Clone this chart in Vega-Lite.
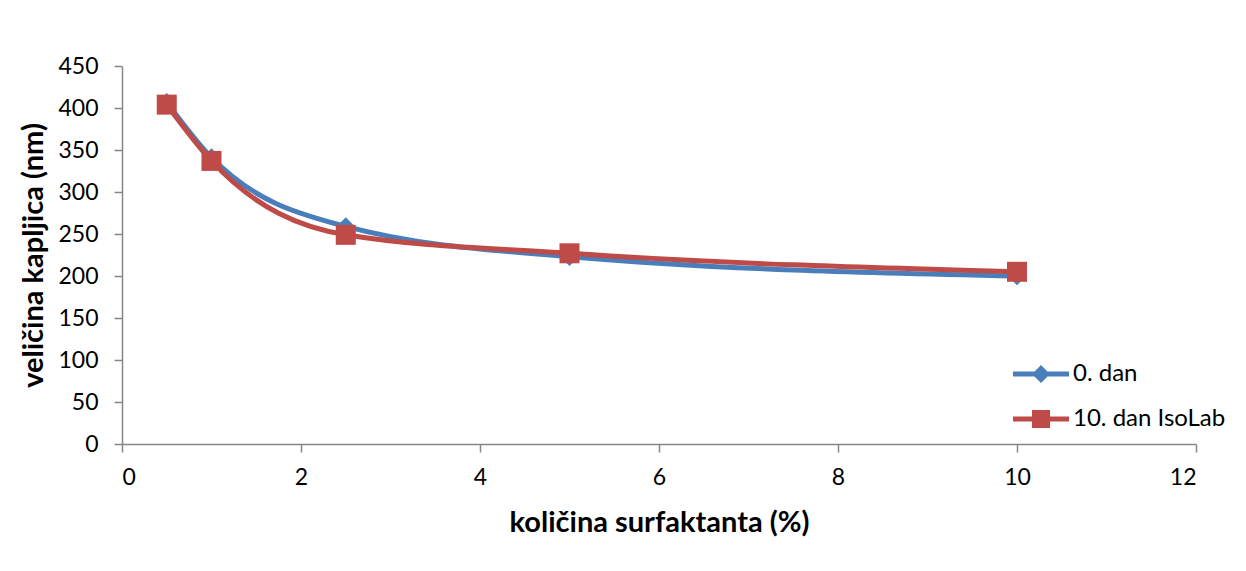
{
  "$schema": "https://vega.github.io/schema/vega-lite/v6.json",
  "autosize": {"type": "none"},
  "padding": {"left": 122, "top": 66, "right": 50, "bottom": 127},
  "width": 1074,
  "height": 378,
  "background": "white",
  "config": {
    "view": {"stroke": null},
    "font": "Lato",
    "axis": {
      "grid": false,
      "domainColor": "#868686",
      "domainWidth": 1.5,
      "tickColor": "#868686",
      "tickWidth": 1.5,
      "tickSize": 8,
      "labelColor": "black",
      "labelFont": "Lato",
      "labelFontSize": 23,
      "titleColor": "black",
      "titleFont": "Lato",
      "titleFontSize": 29,
      "titleFontWeight": "bold"
    }
  },
  "data": {
    "values": [
      {"x": 0.5, "y": 407, "serija": "0. dan"},
      {"x": 1, "y": 341, "serija": "0. dan"},
      {"x": 2.5, "y": 259, "serija": "0. dan"},
      {"x": 5, "y": 223, "serija": "0. dan"},
      {"x": 10, "y": 200, "serija": "0. dan"},
      {"x": 0.5, "y": 404, "serija": "10. dan IsoLab"},
      {"x": 1, "y": 337, "serija": "10. dan IsoLab"},
      {"x": 2.5, "y": 249, "serija": "10. dan IsoLab"},
      {"x": 5, "y": 227, "serija": "10. dan IsoLab"},
      {"x": 10, "y": 205, "serija": "10. dan IsoLab"}
    ]
  },
  "encoding": {
    "x": {
      "field": "x", "type": "quantitative",
      "scale": {"domain": [0, 12], "nice": false},
      "axis": {"values": [0, 2, 4, 6, 8, 10, 12], "title": "količina surfaktanta (%)", "labelPadding": 14, "titlePadding": 19}
    },
    "y": {
      "field": "y", "type": "quantitative",
      "scale": {"domain": [0, 450], "nice": false},
      "axis": {"values": [0, 50, 100, 150, 200, 250, 300, 350, 400, 450], "title": "veličina kapljica (nm)", "labelPadding": 16, "titlePadding": 9}
    }
  },
  "layer": [
    {
      "transform": [{"filter": "datum.serija === '0. dan'"}],
      "mark": {"type": "line", "interpolate": "monotone", "strokeWidth": 5, "color": "#4a7ebb"}
    },
    {
      "transform": [{"filter": "datum.serija === '0. dan'"}],
      "mark": {"type": "point", "filled": true, "opacity": 1, "shape": "diamond", "size": 340, "color": "#4a7ebb"}
    },
    {
      "transform": [{"filter": "datum.serija === '10. dan IsoLab'"}],
      "mark": {"type": "line", "interpolate": "monotone", "strokeWidth": 5, "color": "#be4b48"}
    },
    {
      "transform": [{"filter": "datum.serija === '10. dan IsoLab'"}],
      "mark": {"type": "point", "filled": true, "opacity": 1, "shape": "square", "size": 400, "color": "#be4b48"}
    },
    {
      "mark": {"type": "point", "filled": true, "opacity": 0, "size": 900},
      "encoding": {
        "color": {
          "field": "serija", "type": "nominal",
          "scale": {"domain": ["0. dan", "10. dan IsoLab"], "range": ["#4a7ebb", "#be4b48"]},
          "legend": {
            "title": null,
            "orient": "none",
            "legendX": 904,
            "legendY": 293,
            "padding": 0,
            "symbolSize": 900,
            "symbolOpacity": 1,
            "symbolStrokeWidth": 0,
            "labelOffset": 17,
            "rowPadding": 18,
            "labelFont": "Lato",
            "labelFontSize": 24,
            "labelColor": "black"
          }
        },
        "shape": {
          "field": "serija", "type": "nominal",
          "scale": {"domain": ["0. dan", "10. dan IsoLab"], "range": ["M-1.87,-0.17L1.87,-0.17L1.87,0.17L-1.87,0.17Z M0,-0.6L0.6,0L0,0.6L-0.6,0Z", "M-1.87,-0.17L1.87,-0.17L1.87,0.17L-1.87,0.17Z M-0.6,-0.6L0.6,-0.6L0.6,0.6L-0.6,0.6Z"]},
          "legend": {
            "title": null,
            "orient": "none",
            "legendX": 904,
            "legendY": 293,
            "padding": 0,
            "symbolSize": 900,
            "symbolOpacity": 1,
            "symbolStrokeWidth": 0,
            "labelOffset": 17,
            "rowPadding": 18,
            "labelFont": "Lato",
            "labelFontSize": 24,
            "labelColor": "black"
          }
        }
      }
    }
  ]
}
